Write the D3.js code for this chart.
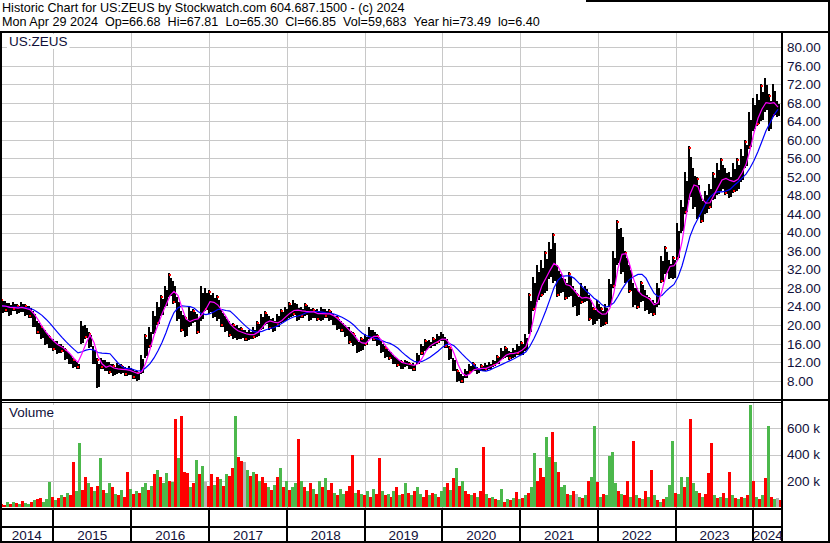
<!DOCTYPE html>
<html>
<head>
<meta charset="utf-8">
<script src="https://cdn.jsdelivr.net/npm/d3@7"></script>
<style>
body { margin: 0; background: #fff; }
text { font-family: "Liberation Sans", Arial, sans-serif; }
</style>
</head>
<body>
<div id="chart"></div>
<script>
// price range per period (about 13 trading days each)
var priceHi = [25.8,25.2,24.8,25.0,24.6,25.0,24.6,24.2,23.0,21.0,
  20.0,19.0,17.8,17.0,16.5,16.0,15.0,14.0,13.0,12.0,
  20.8,20.0,18.5,15.5,13.0,13.0,12.5,12.0,11.5,11.8,
  11.5,11.0,11.2,10.5,10.0,13.5,18.0,19.5,23.0,25.0,
  26.5,28.5,31.2,29.5,26.0,23.0,22.0,24.0,23.5,22.5,
  28.5,28.0,27.5,27.0,26.5,23.5,22.0,21.0,20.5,20.0,
  19.5,19.0,19.0,19.5,21.0,22.5,23.0,22.0,21.5,22.5,
  23.5,24.0,25.0,25.5,24.5,24.0,24.8,24.0,23.8,23.5,
  24.0,23.5,23.5,22.5,22.0,21.0,20.0,19.5,18.5,17.0,
  17.5,18.0,19.5,19.0,18.0,16.5,15.5,14.5,13.5,12.8,
  12.5,12.5,12.0,11.8,14.0,16.0,17.0,16.8,17.5,18.0,
  18.5,17.5,15.5,13.0,10.5,9.5,10.5,11.5,12.0,11.0,
  11.5,11.8,12.0,12.5,13.5,15.0,15.5,14.5,15.0,16.0,
  16.5,18.0,27.0,30.5,33.0,34.0,36.0,38.0,40.0,33.0,
  31.0,30.0,31.5,28.5,27.0,29.0,28.5,26.5,24.0,25.5,
  24.0,24.5,30.0,36.0,42.7,41.0,36.0,33.0,29.0,28.0,
  29.5,27.5,26.0,25.5,29.0,35.0,37.0,34.0,35.0,42.0,
  47.0,53.0,58.7,54.0,52.0,48.0,49.0,50.5,53.0,55.0,
  56.0,54.0,53.0,55.0,56.0,58.0,60.0,66.0,69.0,70.0,
  72.0,73.4,70.0,72.0,68.5];
var priceLo = [22.5,22.8,22.0,23.0,22.5,22.8,22.0,21.5,19.5,18.0,
  17.0,15.8,15.0,14.5,13.8,14.0,12.5,11.5,10.8,10.5,
  16.0,17.0,15.0,11.5,6.4,10.5,10.0,9.5,9.0,9.5,
  9.5,9.0,9.2,8.3,8.0,9.5,13.0,15.0,18.0,20.0,
  22.0,24.0,26.0,24.5,21.0,18.5,17.5,19.5,20.5,18.0,
  21.0,23.0,22.5,21.5,21.0,19.5,18.5,17.5,17.0,16.8,
  17.0,16.5,16.8,17.0,17.5,19.0,20.0,19.0,18.5,19.5,
  20.5,21.0,21.5,22.0,21.0,21.5,22.0,21.0,21.5,21.0,
  21.0,21.5,21.0,20.0,19.0,18.5,17.5,16.0,15.5,14.0,
  14.5,15.5,17.0,16.5,15.5,14.0,13.0,12.5,11.5,11.0,
  10.5,11.0,10.5,10.0,11.5,13.5,14.5,15.0,15.5,16.0,
  16.5,15.0,12.5,10.0,7.8,7.5,8.5,9.5,10.0,9.5,
  10.0,10.2,10.5,11.0,11.5,12.5,13.0,12.5,13.0,13.5,
  13.5,14.5,18.0,23.0,25.0,26.0,27.0,30.0,29.0,26.0,
  27.0,25.5,26.0,24.0,22.0,24.5,25.0,21.0,20.0,21.0,
  19.6,20.0,24.0,28.0,33.0,31.0,29.0,27.0,24.0,23.5,
  25.0,23.0,22.5,22.0,24.0,29.0,31.0,30.0,30.0,34.0,
  40.0,44.0,47.0,45.0,43.0,42.0,44.0,45.0,47.0,48.0,
  49.0,48.0,47.5,48.5,49.0,51.0,54.0,58.0,62.0,63.0,
  64.0,66.0,62.0,65.0,65.0];

// volume in thousands, one bar per ~6 trading days, with up/down colour
var volume = [20,15,35,25,40,30,20,45,30,25,35,55,60,70,40,
  60,190,80,55,70,95,80,110,90,
  345,120,485,130,230,185,150,120,160,370,
  130,110,185,150,100,90,130,80,270,140,
  100,120,110,150,185,130,160,250,285,230,
  180,260,200,190,670,375,693,270,260,150,
  180,355,250,310,190,160,250,170,230,210,
  160,250,240,300,693,385,350,340,280,240,
  270,250,200,230,180,150,130,170,230,300,
  150,200,130,150,180,515,200,150,120,180,
  140,100,200,150,220,130,180,110,90,140,
  100,120,160,400,110,130,100,90,120,80,
  140,100,370,120,90,100,80,120,150,90,
  100,180,110,90,120,150,100,80,130,90,
  110,100,80,120,150,180,130,220,300,160,
  200,120,100,90,110,80,120,460,100,70,
  80,60,50,140,40,60,50,70,115,60,
  70,90,110,150,410,200,300,230,530,385,
  570,340,270,150,170,100,90,120,100,80,
  70,90,200,230,615,190,80,100,90,390,
  420,180,120,100,90,200,80,500,90,70,
  60,120,80,285,90,50,40,60,80,170,
  500,110,100,230,150,230,670,180,120,110,
  80,100,260,485,90,70,80,110,70,265,
  90,70,60,80,70,90,780,195,80,60,
  90,220,615,80,60,70,50];
var volColor = "rrgrgrgrgg" + "rgrrgggrgr" + "grgrrggrrg" + "rgrgrggrgr" + "grrgrgrggr" +
  "grgrggrgrg" + "rrrgrgrgnr" + "rgrgrgrrgr" + "rngrgrgrrg" + "rgrgrgrggr" +
  "grgrgrgrgr" + "rgrggrrrgr" + "grgrgrrgrg" + "rgrgrgrgrg" + "grrgrgrggr" +
  "grgrgrrgrg" + "rrgrgrggrg" + "rgrgrgrggr" + "rrggrgrggr" + "grngrgrggr" +
  "grggggrgrr" + "grgrgrgrgr" + "grgggrggrg" + "rggrgrrrgr" + "grgrgrgrgr" + "grgrgrgrgnr";

var priceTicks = [8,12,16,20,24,28,32,36,40,44,48,52,56,60,64,68,72,76,80];
var volTicks = [200,400,600];
var years = [2014,2015,2016,2017,2018,2019,2020,2021,2022,2023,2024];
var title1 = "Historic Chart for US:ZEUS by Stockwatch.com 604.687.1500 - (c) 2024";
var title2 = ["Mon Apr 29 2024", "Op=66.68", "Hi=67.81", "Lo=65.30", "Cl=66.85", "Vol=59,683", "Year hi=73.49", "lo=6.40"];

var width = 830, height = 543;
var plotR = 782;
var priceTop = 32, priceBot = 400, volTop = 402, volBot = 509, yearTop = 527;

var svg = d3.select("#chart").append("svg")
    .attr("width", width)
    .attr("height", height);

var x = d3.scaleTime()
    .domain([new Date(2014, 3, 25), new Date(2024, 4, 14)])
    .range([0, plotR]);
var xp = d3.scaleLinear().domain([0, priceHi.length]).range([0, 780]);
var xv = d3.scaleBand().domain(d3.range(volume.length)).range([0, plotR]).padding(0);
var y = d3.scaleLinear().domain([80, 8]).range([47.3, 380.7]);
var yv = d3.scaleLinear().domain([0, 600]).range([507, 428.3]);

var colors = { r: "#ff0000", g: "#4cb84c", n: "#b4b4b4" };
var gridColor = "#c8c8c8";
var labelColor = "#10103a";

var yearStarts = years.slice(1).map(function(yr) { return x(new Date(yr, 0, 1)); });

// grid
var grid = svg.append("g");
grid.selectAll(".vgp").data(yearStarts).enter().append("line")
    .attr("x1", function(d) { return Math.round(d) + 0.5; })
    .attr("x2", function(d) { return Math.round(d) + 0.5; })
    .attr("y1", priceTop).attr("y2", priceBot)
    .attr("stroke", gridColor);
grid.selectAll(".vgv").data(yearStarts).enter().append("line")
    .attr("x1", function(d) { return Math.round(d) + 0.5; })
    .attr("x2", function(d) { return Math.round(d) + 0.5; })
    .attr("y1", volTop).attr("y2", volBot)
    .attr("stroke", gridColor);
grid.selectAll(".hgp").data(priceTicks).enter().append("line")
    .attr("x1", 0).attr("x2", plotR)
    .attr("y1", function(d) { return Math.round(y(d)) + 0.5; })
    .attr("y2", function(d) { return Math.round(y(d)) + 0.5; })
    .attr("stroke", gridColor);
grid.selectAll(".hgv").data(volTicks).enter().append("line")
    .attr("x1", 0).attr("x2", plotR)
    .attr("y1", function(d) { return Math.round(yv(d)) + 0.5; })
    .attr("y2", function(d) { return Math.round(yv(d)) + 0.5; })
    .attr("stroke", gridColor);

// price bars: each period drawn as a few thin high-low strokes
var idx = d3.range(priceHi.length);
var bars = svg.append("g").attr("shape-rendering", "crispEdges");
bars.selectAll(".outer").data(idx).enter().append("rect")
    .attr("x", function(i) { return xp(i); })
    .attr("width", 1.5)
    .attr("y", function(i) { return y(priceHi[i]); })
    .attr("height", function(i) { return Math.max(1, y(priceLo[i]) - y(priceHi[i])); })
    .attr("fill", "#000");
bars.selectAll(".inner").data(idx).enter().append("rect")
    .attr("x", function(i) { return xp(i) + 2; })
    .attr("width", 1.5)
    .attr("y", function(i) { return y(priceHi[i]) + (y(priceLo[i]) - y(priceHi[i])) * 0.2; })
    .attr("height", function(i) { return Math.max(1, (y(priceLo[i]) - y(priceHi[i])) * 0.75); })
    .attr("fill", "#000");

// red close ticks
bars.selectAll(".tick").data(idx.filter(function(i) { return i % 3 !== 2; })).enter().append("rect")
    .attr("x", function(i) { return xp(i) + 1; })
    .attr("width", 2).attr("height", 2)
    .attr("y", function(i) { return (i % 2 ? y(priceLo[i]) - 3 : y(priceHi[i]) + 1); })
    .attr("fill", "#ff0000");

// moving averages
var mid = priceHi.map(function(d, i) { return (d + priceLo[i]) / 2; });
function movingAvg(arr, n) {
  return arr.map(function(d, i) { return d3.mean(arr.slice(Math.max(0, i - n + 1), i + 1)); });
}
var line = d3.line()
    .x(function(d, i) { return xp(i) + 2; })
    .y(function(d) { return y(d); });
svg.append("path").datum(movingAvg(mid, 8))
    .attr("d", line).attr("fill", "none")
    .attr("stroke", "#0000ff").attr("stroke-width", 1.2);
svg.append("path").datum(movingAvg(mid, 3))
    .attr("d", line).attr("fill", "none")
    .attr("stroke", "#ff00ff").attr("stroke-width", 1.2);

// volume bars
svg.append("g").attr("shape-rendering", "crispEdges")
  .selectAll("rect").data(volume).enter().append("rect")
    .attr("x", function(d, i) { return xv(i); })
    .attr("width", xv.bandwidth())
    .attr("y", function(d) { return yv(d); })
    .attr("height", function(d) { return yv(0) - yv(d); })
    .attr("fill", function(d, i) { return colors[volColor[i]]; });

// axis labels on the right
svg.append("g").selectAll("text").data(priceTicks).enter().append("text")
    .attr("x", 787).attr("y", function(d) { return y(d); })
    .attr("dy", "0.36em")
    .attr("font-size", "13.5px").attr("fill", labelColor)
    .text(function(d) { return d.toFixed(2); });
svg.append("g").selectAll("text").data(volTicks).enter().append("text")
    .attr("x", 787).attr("y", function(d) { return yv(d); })
    .attr("dy", "0.36em")
    .attr("font-size", "13.5px").attr("fill", labelColor)
    .text(function(d) { return d + " k"; });

// frame
var frame = svg.append("g").attr("stroke", "#000").attr("stroke-width", 2);
frame.append("rect").attr("x", 1).attr("y", 1).attr("width", 828).attr("height", 541).attr("fill", "none");
frame.append("line").attr("x1", 0).attr("x2", width).attr("y1", priceTop).attr("y2", priceTop);
frame.append("line").attr("x1", 0).attr("x2", width).attr("y1", priceBot).attr("y2", priceBot);
frame.append("line").attr("x1", 0).attr("x2", plotR).attr("y1", volTop + 0.5).attr("y2", volTop + 0.5).attr("stroke-width", 1);
frame.append("line").attr("x1", 0).attr("x2", plotR).attr("y1", volBot).attr("y2", volBot);
frame.append("line").attr("x1", 0).attr("x2", plotR).attr("y1", yearTop).attr("y2", yearTop);
frame.append("line").attr("x1", plotR).attr("x2", plotR).attr("y1", priceTop).attr("y2", height);
frame.selectAll(".yd").data(yearStarts).enter().append("line")
    .attr("x1", function(d) { return Math.round(d); })
    .attr("x2", function(d) { return Math.round(d); })
    .attr("y1", volBot).attr("y2", height);

// year labels
var bounds = [0].concat(yearStarts).concat([plotR]);
svg.append("g").selectAll("text").data(years).enter().append("text")
    .attr("x", function(d, i) { return (bounds[i] + bounds[i + 1]) / 2; })
    .attr("y", 540)
    .attr("text-anchor", "middle")
    .attr("font-size", "13.5px").attr("fill", labelColor)
    .text(function(d) { return d; });

// panel labels with white backing
function boxedLabel(txt, px, py) {
  var g = svg.append("g");
  var t = g.append("text").attr("x", px).attr("y", py)
      .attr("font-size", "13.5px").attr("fill", labelColor).text(txt);
  var bb = t.node().getBBox();
  g.insert("rect", "text").attr("x", bb.x - 2).attr("y", bb.y).attr("width", bb.width + 4).attr("height", bb.height)
      .attr("fill", "#fff");
}
boxedLabel("US:ZEUS", 9, 46);
boxedLabel("Volume", 9, 417);

// header
var head = svg.append("g");
head.append("rect").attr("x", 0).attr("y", 0).attr("width", 586).attr("height", 31).attr("fill", "#fff");
head.append("text").attr("x", 2).attr("y", 12).attr("font-size", "12.6px")
    .text(title1);
// second line: fields separated by a double space
var hx = 2;
title2.forEach(function(part) {
  var t = head.append("text").attr("x", hx).attr("y", 26).attr("font-size", "12.6px").text(part);
  hx += t.node().getComputedTextLength() + 7;
});
</script>
</body>
</html>
